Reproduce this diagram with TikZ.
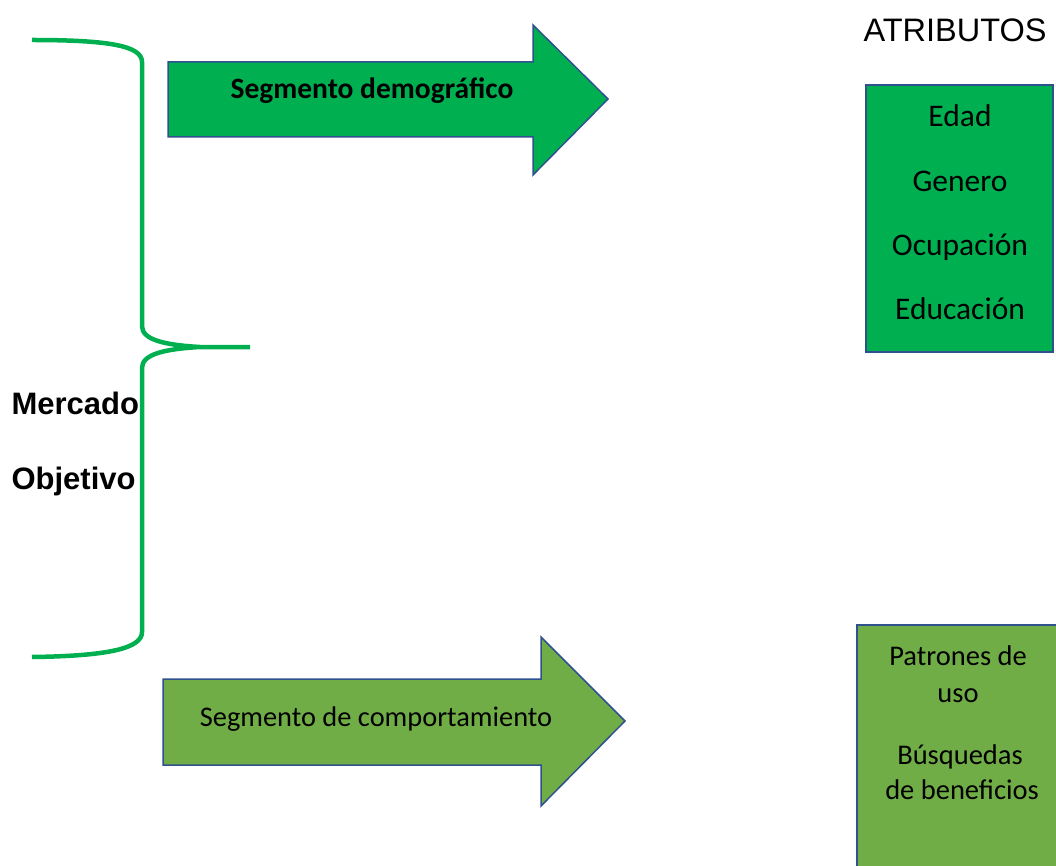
\documentclass[tikz,border=0pt]{standalone}
\usepackage{fontspec}
\setmainfont{Carlito}
\newfontfamily\arialfont{Liberation Sans}
\usepackage{xcolor}
\definecolor{segGreen}{HTML}{00B050}
\definecolor{behGreen}{HTML}{70AD47}
\definecolor{edgeBlue}{HTML}{2F528F}

\begin{document}
\begin{tikzpicture}[x=1pt,y=-1pt,
    segarrow/.style={draw=edgeBlue, line width=1.5pt, line join=miter},
    attrbox/.style={draw=edgeBlue, line width=1.8pt},
    attr/.style={anchor=base, font=\fontsize{31.5}{34}\selectfont},
    habit/.style={anchor=base, font=\fontsize{28.5}{31}\selectfont},
    brace/.style={draw=segGreen, line width=4.5pt}]
    \useasboundingbox (0,0) rectangle (1056,866);
    % llave del mercado objetivo
    \coordinate (braceTop) at (32,40);
    \coordinate (braceTip) at (250,347);
    \coordinate (braceBot) at (32,657);
    \draw [brace] (braceTop) .. controls (110,40) and (142,46) .. (142,62)
        -- (142,326) .. controls (142,340) and (165,345) .. (200,347)
        -- (braceTip) -- (200,347)
        .. controls (165,349) and (142,354) .. (142,368)
        -- (142,632) .. controls (142,648) and (110,656) .. (braceBot);
    \node [anchor=base west, font=\arialfont\bfseries\fontsize{31}{34}\selectfont] (mercado) at (8,414) {Mercado};
    \node [anchor=base west, font=\arialfont\bfseries\fontsize{31}{34}\selectfont] (objetivo) at (8,489) {Objetivo};
    % flechas de segmentos
    \draw [segarrow, fill=segGreen] (168,62) -- (533,62) -- (533,25) -- (608,99)
        -- (533,175) -- (533,137) -- (168,137) -- cycle;
    \node [anchor=base, font=\bfseries\fontsize{29.5}{32}\selectfont] (segDemo) at (372,99) {Segmento demogr\'afico};
    \draw [segarrow, fill=behGreen] (163,679) -- (541,679) -- (541,637) -- (625,721)
        -- (541,806) -- (541,765) -- (163,765) -- cycle;
    \node [anchor=base, font=\fontsize{28.4}{31}\selectfont] (segComp) at (376,726) {Segmento de comportamiento};
    % atributos
    \node [anchor=base, font=\arialfont\fontsize{32.5}{35}\selectfont] (atributos) at (955,42) {ATRIBUTOS};
    \draw [attrbox, fill=segGreen] (866,85) rectangle (1053,352);
    \node [attr] (edad) at (960,127) {Edad};
    \node [attr] (genero) at (960,192) {Genero};
    \node [attr] (ocupacion) at (960,256) {Ocupaci\'on};
    \node [attr] (educacion) at (960,319) {Educaci\'on};
    \draw [attrbox, fill=behGreen] (857,625) rectangle (1064,880);
    \node [habit] (patrones) at (958,665) {Patrones de};
    \node [habit] (uso) at (958,702) {uso};
    \node [habit] (busquedas) at (960,764) {B\'usquedas};
    \node [habit] (beneficios) at (962,799) {de beneficios};
\end{tikzpicture}
\end{document}
